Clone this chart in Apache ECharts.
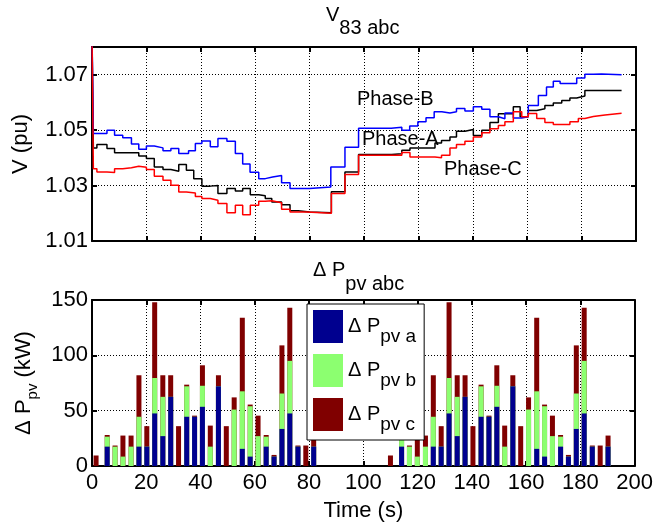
<!DOCTYPE html>
<html><head><meta charset="utf-8">
<script src="https://cdn.jsdelivr.net/npm/echarts@6/dist/echarts.min.js"></script>
<style>html,body{margin:0;padding:0;background:#fff}#c{width:656px;height:526px}</style>
</head><body><div id="c"></div>
<script>
// ---- top panel: bus 83 voltages (time s, pu), step lines ----
const phaseA = [[0,1.085],[0.5,1.0436],[1.8,1.0448],[5.5,1.0434],[8.3,1.0418],[17.2,1.0407],[20,1.0398],[22.9,1.0367],[26.1,1.0358],[29,1.0352],[31.9,1.0376],[34.7,1.0355],[37.4,1.0325],[40.4,1.0298],[43.5,1.03],[46.3,1.0271],[49.6,1.0289],[52.7,1.028],[55.4,1.0289],[58.2,1.0267],[61.3,1.0263],[63.7,1.0253],[66.1,1.0241],[69.7,1.0231],[72.8,1.0209],[75.8,1.0205],[80,1.0202],[88,1.0278],[93,1.0349],[98,1.0412],[110.2,1.0415],[113.9,1.0427],[116.9,1.0436],[126.1,1.0454],[128.5,1.0463],[131.6,1.0475],[134,1.0496],[137.1,1.0502],[140.2,1.0481],[143.3,1.05],[146.3,1.0528],[149.4,1.0559],[154.9,1.0584],[157.4,1.0548],[160.4,1.0571],[163.5,1.0577],[166.5,1.0589],[169.6,1.0598],[172.7,1.0607],[175.7,1.0616],[178.2,1.0623],[181.2,1.0643],[194.7,1.0643]];
const phaseB = [[0,1.085],[0.5,1.0488],[5.5,1.05],[8.3,1.0482],[11.3,1.0473],[14.5,1.045],[17.2,1.0431],[20,1.0443],[22.9,1.0436],[26.1,1.0426],[29,1.0434],[31.9,1.0416],[35.5,1.0426],[38,1.0452],[40.4,1.0461],[43.5,1.044],[46.3,1.047],[49.6,1.046],[52.7,1.0416],[55.4,1.0378],[58.1,1.0348],[61.3,1.0325],[63.7,1.0331],[66.4,1.0336],[69.7,1.031],[72.8,1.0289],[80,1.0295],[87.8,1.0367],[93,1.0438],[98,1.0507],[110,1.051],[113.9,1.05],[116.8,1.0515],[119.8,1.053],[122.8,1.0545],[125.8,1.0566],[128.6,1.0562],[131.6,1.0566],[134,1.0578],[137.1,1.0569],[140.2,1.0584],[143.3,1.0575],[146.3,1.0548],[149.4,1.0541],[151.8,1.0562],[154.9,1.0544],[158,1.0548],[160.4,1.0589],[164.1,1.0625],[167.1,1.0656],[169.6,1.0676],[172.1,1.0668],[178.2,1.0688],[181.2,1.0702],[184.3,1.0703],[187.3,1.07],[194.7,1.07]];
const phaseC = [[0,1.085],[0.5,1.0361],[1.8,1.0349],[5.5,1.0347],[8.3,1.0361],[11.3,1.0364],[14.5,1.037],[17.2,1.0366],[20,1.0358],[22.9,1.0334],[26.1,1.0319],[29,1.0301],[31.9,1.0277],[34.7,1.0273],[38,1.0261],[40.4,1.0253],[43.5,1.0247],[46.3,1.0235],[49.6,1.0202],[52.7,1.0229],[55.4,1.0195],[58.2,1.0229],[61.3,1.0243],[63.7,1.0245],[66.1,1.0238],[69.7,1.0215],[72.8,1.0205],[78.9,1.02],[88,1.0271],[93,1.034],[98,1.0409],[113.9,1.0419],[116.9,1.0403],[126.1,1.04],[128.5,1.0409],[131.6,1.0436],[134,1.0448],[137.1,1.046],[140.2,1.0475],[143.3,1.0491],[146.3,1.0505],[149.4,1.0517],[151.8,1.053],[154.9,1.0566],[158,1.0548],[160.4,1.056],[163.5,1.0542],[166.5,1.0528],[169.6,1.052],[175.7,1.053],[178.8,1.0542],[181.2,1.0549],[184.3,1.0555],[188.6,1.0561],[194.7,1.0561]];

// ---- bottom panel: PV power changes (kW) per phase ----
const barTimes = [1.5,5.6,8.5,11.4,14.4,17.3,20.2,23.1,26.1,29.0,31.9,34.9,37.8,40.7,43.6,46.6,49.5,52.4,55.4,58.3,61.2,64.2,67.1,70.0,72.9,75.9,78.8,81.7,
  110.0,114.1,117.0,119.9,122.9,125.8,128.7,131.6,134.6,137.5,140.4,143.4,146.3,149.2,152.1,155.1,158.0,160.9,163.9,166.8,169.7,172.7,175.6,178.5,181.4,184.4,187.3,190.2];
const pvA = [0,17.5,0,0,0,17.5,17.5,47.5,27,62.5,0,44.5,44.5,53.5,0,72,0,0,15.5,8.5,0,17.5,8.5,33.5,47.5,17.5,0,17.5,
  0,17.5,0,0,0,17.5,17.5,47.5,27,62.5,0,44.5,44.5,53.5,0,72,0,0,15.5,8.5,0,17.5,8.5,33.5,47.5,17.5,0,17.5];
const pvB = [0,9,17.5,8.5,17.5,27,0,32,35.5,0,0,27.5,0,19,17.5,0,0,51,52,45.5,27,9,0,32,47.5,0,0,0,
  0,9,17.5,8.5,17.5,27,0,32,35.5,0,0,27.5,0,19,17.5,0,0,51,52,45.5,27,9,0,32,47.5,0,0,0];
const pvC = [9.5,1.5,1,19,10,37.5,18.5,68.5,19.5,19.5,36,1.5,1,18.5,19,10,36,11,66.5,1.5,18.5,1.5,1.5,43.5,48,1,18.5,10,
  9.5,1.5,1,19,10,37.5,18.5,68.5,19.5,19.5,36,1.5,1,18.5,19,10,36,11,66.5,1.5,18.5,1.5,1.5,43.5,48,1,18.5,10];
const xTicks = {min:0, max:200, step:20};

const FONT = '"Liberation Sans", Arial, Helvetica, sans-serif';
const cumAB = pvA.map((v,i)=>v+pvB[i]);
const cumABC = cumAB.map((v,i)=>v+pvC[i]);

const chart = echarts.init(document.getElementById('c'), null, {renderer:'canvas'});
const black = '#000';
const dotted = {show:true, lineStyle:{color:black, type:[1,2], width:1}};
function xAx(grid, pos, opts){
  return Object.assign({type:'value', gridIndex:grid, position:pos, min:xTicks.min, max:xTicks.max, interval:xTicks.step,
    axisLine:{show:true, onZero:false, lineStyle:{color:black, width:2}},
    axisTick:{show:true, inside:true, length:5, lineStyle:{color:black, width:2}},
    axisLabel:{show:false}, splitLine:{show:false}}, opts||{});
}
function yAx(grid, pos, lo, hi, step, opts){
  return Object.assign({type:'value', gridIndex:grid, position:pos, min:lo, max:hi, interval:step,
    axisLine:{show:true, onZero:false, lineStyle:{color:black, width:2}},
    axisTick:{show:true, inside:true, length:5, lineStyle:{color:black, width:2}},
    axisLabel:{show:false}, splitLine:{show:false}}, opts||{});
}
const lab = {show:true, color:black, fontFamily:FONT, fontSize:22};
// main token centred in a tall line, subscript pushed to the bottom of that line
function subCentered(mainSize, subSize, mainLH){
  return {
    m:{fontFamily:FONT, fontSize:mainSize, fontWeight:'normal', color:black, lineHeight:mainLH},
    s:{fontFamily:FONT, fontSize:subSize, fontWeight:'normal', color:black, verticalAlign:'bottom'}
  };
}
// main token at the top of the line, subscript at the bottom of a taller line
function subTop(mainSize, subSize, subLH){
  return {
    m:{fontFamily:FONT, fontSize:mainSize, fontWeight:'normal', color:black, verticalAlign:'top'},
    s:{fontFamily:FONT, fontSize:subSize, fontWeight:'normal', color:black, lineHeight:subLH, verticalAlign:'bottom'}
  };
}

const option = {
  animation:false,
  backgroundColor:'#fff',
  title:[
    {left:326, top:5, padding:0, text:'{m|V}{s|83 abc}',
     textStyle:{fontWeight:'normal', fontFamily:FONT, fontSize:20, rich:subTop(20,20,33)}},
    {left:313, top:260, padding:0, text:'{m|Δ P}{s|pv abc}',
     textStyle:{fontWeight:'normal', fontFamily:FONT, fontSize:20, rich:subTop(20,20,34)}}
  ],
  grid:[
    {left:92, top:47, width:544, height:194},
    {left:92, top:300, width:544, height:166}
  ],
  xAxis:[
    xAx(0,'bottom',{splitLine:dotted}),
    xAx(0,'top'),
    xAx(1,'bottom',{splitLine:dotted, axisLabel:Object.assign({margin:6}, lab),
      name:'Time (s)', nameLocation:'middle', nameGap:34,
      nameTextStyle:{color:black, fontFamily:FONT, fontSize:22}}),
    xAx(1,'top')
  ],
  yAxis:[
    yAx(0,'left',1.01,1.08,0.02,{splitLine:dotted,
      axisLabel:Object.assign({margin:4, showMaxLabel:false, formatter:(v)=>v.toFixed(2)}, lab),
      name:'V (pu)', nameLocation:'middle', nameGap:60, nameRotate:90,
      nameTextStyle:{color:black, fontFamily:FONT, fontSize:22}}),
    yAx(0,'right',1.01,1.08,0.02),
    yAx(1,'left',0,150,50,{splitLine:dotted, axisLabel:Object.assign({margin:4}, lab),
      name:'{m|Δ P}{s|pv}{m| (kW)}', nameLocation:'middle', nameGap:50, nameRotate:90,
      nameTextStyle:{color:black, fontFamily:FONT, fontSize:22, rich:subCentered(22,15,33)}}),
    yAx(1,'right',0,150,50)
  ],
  legend:{
    data:['a','b','c'], orient:'vertical', left:307, top:304, z:20,
    padding:[6,8,6,6], itemGap:8, itemWidth:30, itemHeight:33, icon:'rect',
    backgroundColor:'#fff', borderColor:black, borderWidth:1, borderRadius:0,
    selectedMode:false,
    formatter:(n)=>'{m|Δ P}{s|pv '+n+'}',
    textStyle:{color:black, fontFamily:FONT, fontSize:20, rich:subCentered(20,19,39)}
  },
  graphic:[
    {type:'text', left:357, top:89, z:10, style:{text:'Phase-B', fill:black, font:'20px '+FONT}},
    {type:'text', left:362, top:129, z:10, style:{text:'Phase-A', fill:black, font:'20px '+FONT}},
    {type:'text', left:444, top:159, z:10, style:{text:'Phase-C', fill:black, font:'20px '+FONT}}
  ],
  series:[
    {name:'Phase-A', type:'line', step:'end', xAxisIndex:0, yAxisIndex:0, symbol:'none', data:phaseA,
     lineStyle:{color:'#000', width:1.5}, itemStyle:{color:'#000'}, z:3},
    {name:'Phase-B', type:'line', step:'end', xAxisIndex:0, yAxisIndex:0, symbol:'none', data:phaseB,
     lineStyle:{color:'#0000ff', width:1.5}, itemStyle:{color:'#0000ff'}, z:4},
    {name:'Phase-C', type:'line', step:'end', xAxisIndex:0, yAxisIndex:0, symbol:'none', data:phaseC,
     lineStyle:{color:'#ff0000', width:1.5}, itemStyle:{color:'#ff0000'}, z:5},
    {name:'a', type:'bar', xAxisIndex:2, yAxisIndex:2, barWidth:5, barGap:'-100%', z:6,
     itemStyle:{color:'#00008f'}, data:barTimes.map((t,i)=>[t,pvA[i]])},
    {name:'b', type:'bar', xAxisIndex:2, yAxisIndex:2, barWidth:5, barGap:'-100%', z:5,
     itemStyle:{color:'#8cff70'}, data:barTimes.map((t,i)=>[t,cumAB[i]])},
    {name:'c', type:'bar', xAxisIndex:2, yAxisIndex:2, barWidth:5, barGap:'-100%', z:4,
     itemStyle:{color:'#800000'}, data:barTimes.map((t,i)=>[t,cumABC[i]])}
  ]
};
chart.setOption(option);
</script>
</body></html>
